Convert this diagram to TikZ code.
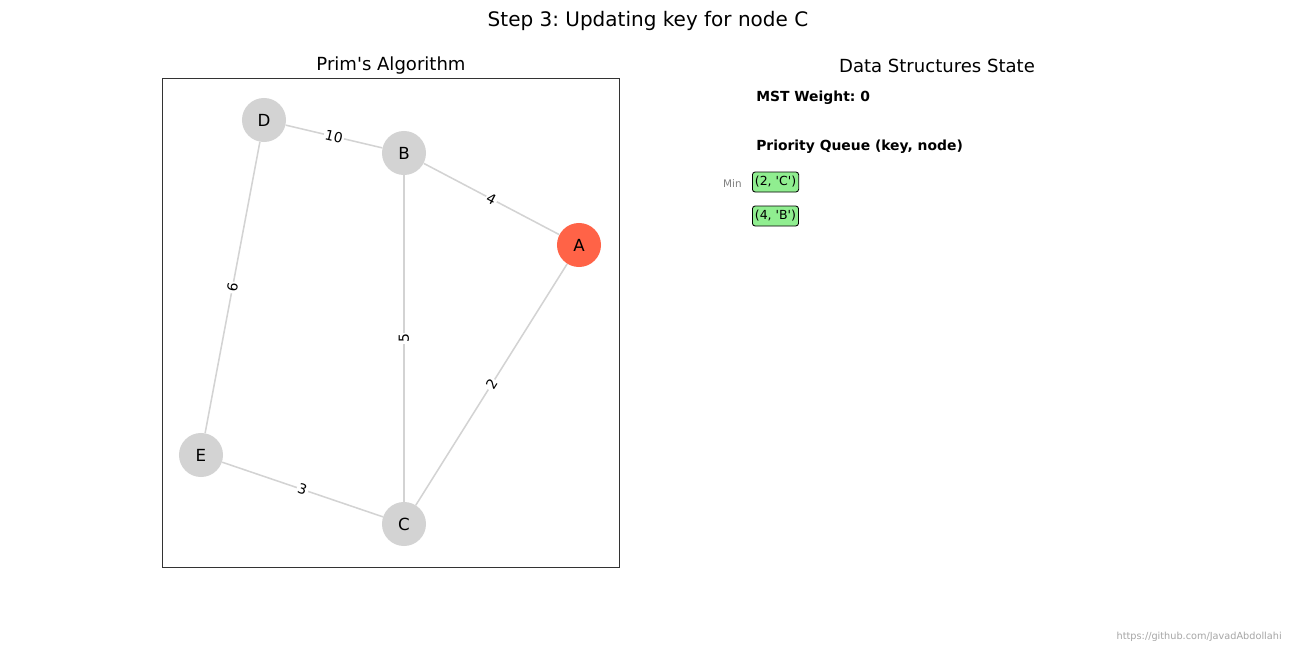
\documentclass[tikz,border=0pt]{standalone}
\usepackage{fontspec}
\setmainfont[Ligatures=TeXOff]{DejaVu Sans}
\usepackage{xcolor}
\definecolor{edgegray}{HTML}{D3D3D3}
\definecolor{visited}{HTML}{FF6347}
\definecolor{pqgreen}{HTML}{90EE90}
\definecolor{framegray}{HTML}{333333}
\newcommand{\fsz}[1]{\fontsize{#1}{#1}\selectfont}
\frenchspacing

\begin{document}
\begin{tikzpicture}[x=0.72pt,y=-0.72pt,
    vertex/.style={circle,fill=edgegray,minimum size=31.7pt,inner sep=0pt,font=\fsz{12}},
    link/.style={draw=edgegray,line width=1.1pt},
    weight/.style={midway,sloped,fill=white,inner sep=1pt,font=\fsz{10}},
    pqitem/.style={draw=black,fill=pqgreen,rounded corners=2pt,line width=0.6pt,inner xsep=1.8pt,inner ysep=0pt,minimum height=14.4pt,font=\fsz{9},anchor=west}]
			\useasboundingbox (0,0) rectangle (1296,648);
			\fill[white] (0,0) rectangle (1296,648);
			
			% titles
			\node (title) at (648,21) {\fsz{14.4}Step 3: Updating key for node C};
			\node (lefttitle) at (391,66) {\fsz{13}Prim's Algorithm};
			\node (righttitle) at (937,66) {\fsz{13}Data Structures State};
			
			% axes frame
			\coordinate (f1) at (162,78);
			\coordinate (f2) at (619,567);
			\draw[framegray,line width=0.6pt] (f1) rectangle (f2);
			
			% graph
			\node (A) at (579,245) [vertex,fill=visited] {A};
			\node (B) at (404,153) [vertex] {B};
			\node (C) at (404,524) [vertex] {C};
			\node (D) at (264,120) [vertex] {D};
			\node (E) at (201,455) [vertex] {E};
			
			\draw[link] (D) -- (B) node[weight]{10};
			\draw[link] (B) -- (A) node[weight]{4};
			\draw[link] (E) -- (D) node[weight]{6};
			\draw[link] (C) -- (B) node[weight]{5};
			\draw[link] (C) -- (A) node[weight]{2};
			\draw[link] (E) -- (C) node[weight]{3};
			
			% data structures
			\node (weightlbl) at (756,98) [anchor=west,inner sep=0pt,font=\fsz{10}\bfseries] {MST Weight: 0};
			\node (pqlbl) at (756,147) [anchor=west,inner sep=0pt,font=\fsz{10}\bfseries] {Priority Queue (key, node)};
			\node (pq1) at (752,182) [pqitem] {(2, 'C')};
			\node (pq2) at (752,216) [pqitem] {(4, 'B')};
			\node (minlbl) at (742,184) [anchor=east,inner sep=0pt,text=gray,font=\fsz{7.5}] {Min};
			
			% watermark
			\node (credit) at (1282,637) [anchor=east,inner sep=0pt,text=gray!70,font=\fsz{7}] {https://github.com/JavadAbdollahi};
		\end{tikzpicture}
\end{document}
